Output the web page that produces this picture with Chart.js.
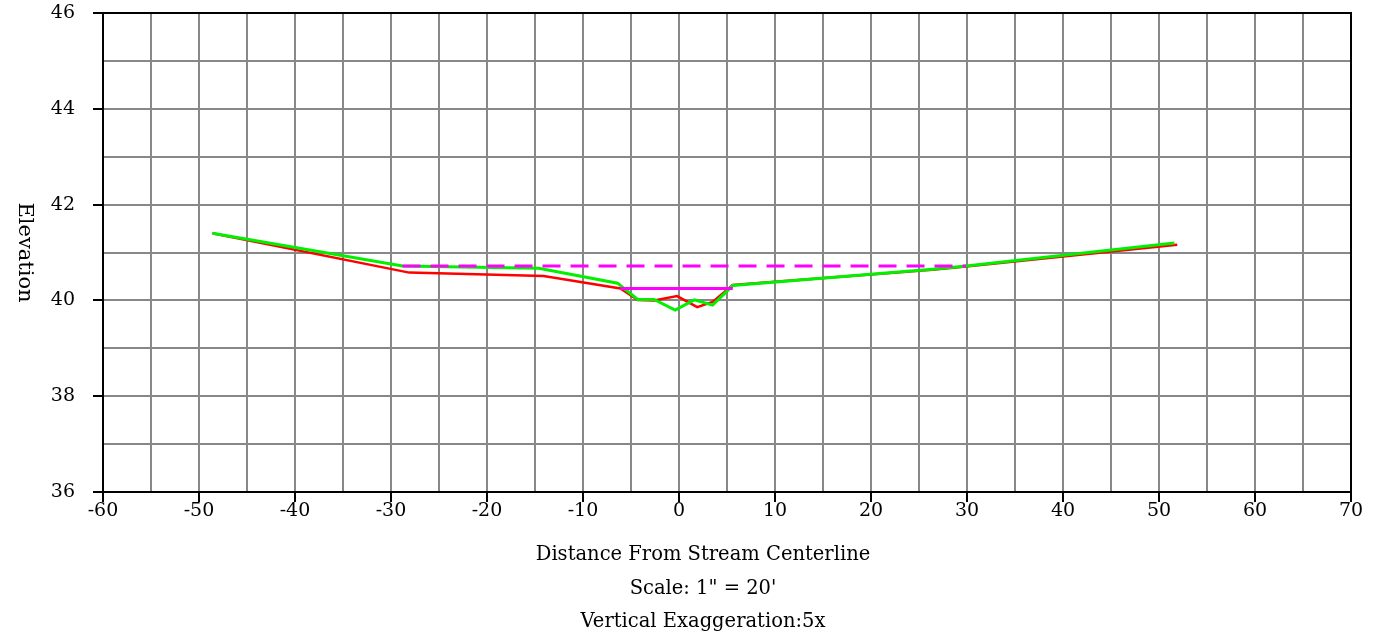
<!DOCTYPE html>
<html>
<head>
<meta charset="utf-8">
<script src="https://cdn.jsdelivr.net/npm/chart.js@4.4.0/dist/chart.umd.min.js"></script>
<style>
  html, body { margin: 0; padding: 0; background: #ffffff; }
  #wrap { width: 1383px; height: 634px; position: relative; }
</style>
</head>
<body>
<div id="wrap"><canvas id="c" width="1383" height="634"></canvas></div>
<script>
// ---- data ----
const redX   = [-48.6, -28.1, -14.1, -6.1, -4.3, -2.6, -0.2, 1.9, 3.5, 5.6, 26.4, 29.9, 51.9];
const redY   = [41.40, 40.58, 40.51, 40.25, 40.01, 40.00, 40.09, 39.86, 39.97, 40.32, 40.64, 40.71, 41.16];
const greenX = [-48.6, -28.8, -14.6, -6.4, -4.3, -2.6, -0.4, 1.6, 3.5, 5.6, 26.4, 29.9, 51.6];
const greenY = [41.40, 40.72, 40.67, 40.36, 40.02, 40.02, 39.80, 40.01, 39.90, 40.31, 40.65, 40.72, 41.20];
const waterX = [-28.8, 29.9];
const waterY = [40.72, 40.72];
const bankX  = [-6.1, 5.6];
const bankY  = [40.25, 40.25];
const xTicks = [-60, -50, -40, -30, -20, -10, 0, 10, 20, 30, 40, 50, 60, 70];
const yTicks = [36, 38, 40, 42, 44, 46];
const xTitleLines = ["Distance From Stream Centerline", "Scale: 1\" = 20'", "Vertical Exaggeration:5x"];
const yTitle = "Elevation";

const FONT = "'DejaVu Serif', 'Liberation Serif', serif";
const pts = (xs, ys) => xs.map((x, i) => ({ x: x, y: ys[i] }));

const titlesPlugin = {
  id: 'titlesPlugin',
  afterDraw(chart) {
    const { ctx, chartArea } = chart;
    ctx.save();
    // top & right frame
    ctx.strokeStyle = '#000';
    ctx.lineWidth = 2;
    ctx.beginPath();
    ctx.moveTo(chartArea.left - 10, chartArea.top);
    ctx.lineTo(chartArea.right, chartArea.top);
    ctx.lineTo(chartArea.right, chartArea.bottom);
    ctx.stroke();
    // y title, rotated clockwise
    ctx.fillStyle = '#000';
    ctx.font = '21px ' + FONT;
    ctx.textAlign = 'center';
    ctx.textBaseline = 'middle';
    ctx.translate(24, (chartArea.top + chartArea.bottom) / 2);
    ctx.rotate(Math.PI / 2);
    ctx.fillText(yTitle, 0, 0);
    ctx.restore();
    // x title lines
    ctx.save();
    ctx.fillStyle = '#000';
    ctx.font = '19.5px ' + FONT;
    ctx.textAlign = 'center';
    ctx.textBaseline = 'alphabetic';
    xTitleLines.forEach((t, i) => ctx.fillText(t, 703, 560 + i * 33.5));
    ctx.restore();
  }
};

new Chart(document.getElementById('c'), {
  type: 'scatter',
  data: {
    datasets: [
      { data: pts(redX, redY), showLine: true, borderColor: '#ff0000', borderWidth: 2.5, pointRadius: 0, fill: false, order: 3 },
      { data: pts(greenX, greenY), showLine: true, borderColor: '#00f000', borderWidth: 3, pointRadius: 0, fill: false, order: 2 },
      { data: pts(bankX, bankY), showLine: true, borderColor: '#ff00ff', borderWidth: 3, pointRadius: 0, fill: false, order: 1 },
      { data: pts(waterX, waterY), showLine: true, borderColor: '#ff00ff', borderWidth: 3, borderDash: [18, 10], pointRadius: 0, fill: false, order: 1 }
    ]
  },
  options: {
    responsive: false,
    animation: false,
    events: [],
    layout: { padding: { left: 0, right: 32, top: 13, bottom: 0 } },
    plugins: { legend: { display: false }, tooltip: { enabled: false }, title: { display: false } },
    scales: {
      x: {
        type: 'linear', min: -60, max: 70,
        afterBuildTicks(scale) {
          const t = [];
          for (let v = -60; v <= 70; v += 5) t.push({ value: v });
          scale.ticks = t;
        },
        afterFit(scale) { scale.height = 142; scale.paddingLeft = 0; scale.paddingRight = 0; },
        grid: {
          color: '#888888', lineWidth: 2,
          drawTicks: true, tickLength: 10,
          tickColor: (c) => (xTicks.includes(c.tick && c.tick.value) ? '#000000' : 'rgba(0,0,0,0)'),
          tickWidth: 2
        },
        border: { display: true, color: '#000000', width: 2 },
        ticks: {
          autoSkip: false, maxRotation: 0, padding: -2, color: '#000',
          font: { family: FONT, size: 19 },
          callback: (v) => (xTicks.includes(v) ? String(v) : '')
        }
      },
      y: {
        type: 'linear', min: 36, max: 46,
        afterBuildTicks(scale) {
          const t = [];
          for (let v = 36; v <= 46; v += 1) t.push({ value: v });
          scale.ticks = t;
        },
        afterFit(scale) { scale.width = 103; scale.paddingTop = 0; scale.paddingBottom = 0; },
        grid: {
          color: '#888888', lineWidth: 2,
          drawTicks: true, tickLength: 10,
          tickColor: (c) => (yTicks.includes(c.tick && c.tick.value) ? '#000000' : 'rgba(0,0,0,0)'),
          tickWidth: 2
        },
        border: { display: true, color: '#000000', width: 2 },
        ticks: {
          autoSkip: false, padding: 18, color: '#000',
          font: { family: FONT, size: 19 },
          callback: (v) => (yTicks.includes(v) ? String(v) : '')
        }
      }
    }
  },
  plugins: [titlesPlugin]
});
</script>
</body>
</html>
